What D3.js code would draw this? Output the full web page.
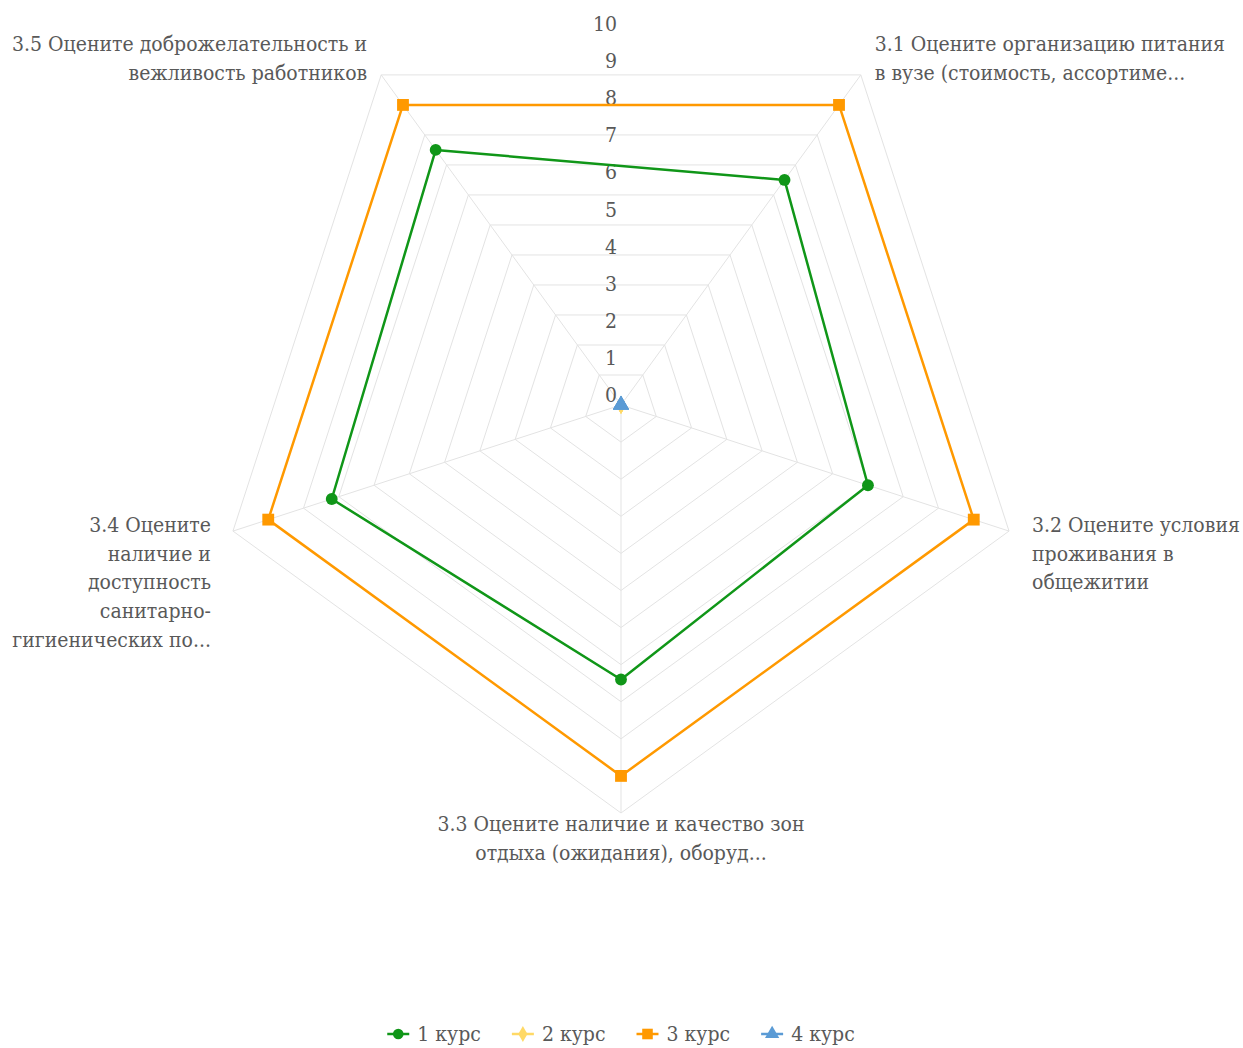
<!DOCTYPE html>
<html>
<head>
<meta charset="utf-8">
<script src="https://cdn.jsdelivr.net/npm/d3@7"></script>
<style>
  body { margin: 0; background: #fff; }
  svg text { font-family: "DejaVu Serif Condensed", "DejaVu Serif", serif; font-stretch: condensed; fill: #595959; }
</style>
</head>
<body>
<script>
const w = 1243,
  h = 1048,
  cx = 621,
  cy = 405;

// data
const axes = [
  ['3.1 Оцените организацию питания', 'в вузе (стоимость, ассортиме...'],
  ['3.2 Оцените условия', 'проживания в', 'общежитии'],
  ['3.3 Оцените наличие и качество зон', 'отдыха (ожидания), оборуд...'],
  ['3.4 Оцените', 'наличие и', 'доступность', 'санитарно-', 'гигиенических по...'],
  ['3.5 Оцените доброжелательность и', 'вежливость работников']
];
const seriesNames = ['1 курс', '2 курс', '3 курс', '4 курс'];
const kurs1 = [7.5, 7.0, 7.4, 8.2, 8.5];
const kurs2 = [0, 0, 0, 0, 0];
const kurs3 = [10, 10, 10, 10, 10];
const kurs4 = [0, 0, 0, 0, 0];
const ticks = [0, 1, 2, 3, 4, 5, 6, 7, 8, 9, 10];
const gridMax = 11;

const colors = ['#109618', '#ffd966', '#ff9900', '#5b9bd5'];
const symbols = [d3.symbolCircle, d3.symbolDiamond, d3.symbolSquare, d3.symbolTriangle];
const symSize = [110, 90, 140, 110];
const fs = '21px';

const r = d3.scaleLinear().domain([0, gridMax]).range([0, 408]);
const angle = d3
  .scaleLinear()
  .domain([0, axes.length])
  .range([Math.PI / 5, Math.PI / 5 + 2 * Math.PI]);

function pt(i, v) {
  const a = angle(i);
  return [cx + r(v) * Math.sin(a), cy - r(v) * Math.cos(a)];
}

const svg = d3
  .select('body')
  .append('svg')
  .attr('width', w)
  .attr('height', h);

// grid rings
const levels = d3.range(1, gridMax + 1);
svg
  .append('g')
  .selectAll('path')
  .data(levels)
  .enter()
  .append('path')
  .attr('d', lv => 'M' + axes.map((a, i) => pt(i, lv).join(',')).join('L') + 'Z')
  .attr('fill', 'none')
  .attr('stroke', '#e3e3e3')
  .attr('stroke-width', 1);

// spokes
svg
  .append('g')
  .selectAll('line')
  .data(axes)
  .enter()
  .append('line')
  .attr('x1', cx)
  .attr('y1', cy)
  .attr('x2', (d, i) => pt(i, gridMax)[0])
  .attr('y2', (d, i) => pt(i, gridMax)[1])
  .attr('stroke', '#e3e3e3')
  .attr('stroke-width', 1);

// tick labels
svg
  .append('g')
  .selectAll('text')
  .data(ticks)
  .enter()
  .append('text')
  .attr('x', cx - 4)
  .attr('y', d => cy - r(d) - 3)
  .attr('text-anchor', 'end')
  .style('font-size', fs)
  .text(d => d);

// axis labels
const lineH = 28.7;
axes.forEach((lines, i) => {
  const [vx, vy] = pt(i, gridMax);
  const s = Math.sin(angle(i)),
    c = Math.cos(angle(i));
  let x = vx,
    y = vy,
    anchor = 'middle';
  if (c > 0.5) {
    x = vx + (s > 0 ? 14 : -14);
    y = vy - 24;
    anchor = s > 0 ? 'start' : 'end';
  } else if (Math.abs(s) > 0.5) {
    x = vx + (s > 0 ? 23 : -22);
    y = vy + 1;
    anchor = s > 0 ? 'start' : 'end';
  } else {
    y = vy + 18;
  }
  const t = svg
    .append('text')
    .attr('text-anchor', anchor)
    .style('font-size', fs);
  t.selectAll('tspan')
    .data(lines)
    .enter()
    .append('tspan')
    .attr('x', x)
    .attr('y', (d, j) => y + j * lineH)
    .text(d => d);
});

// series
const allSeries = [kurs1, kurs2, kurs3, kurs4];
allSeries.forEach((vals, k) => {
  const g = svg.append('g');
  g.append('path')
    .attr('d', 'M' + vals.map((v, i) => pt(i, v).join(',')).join('L') + 'Z')
    .attr('fill', 'none')
    .attr('stroke', colors[k])
    .attr('stroke-width', 2.5)
    .attr('stroke-linejoin', 'round');
  g.selectAll('path.pt')
    .data(vals)
    .enter()
    .append('path')
    .attr('class', 'pt')
    .attr('transform', (v, i) => `translate(${pt(i, v)})`)
    .attr('d', d3.symbol().type(symbols[k]).size(symSize[k]))
    .attr('fill', colors[k]);
});

// legend
const legend = svg.append('g');
let lx = 0;
seriesNames.forEach((name, k) => {
  const item = legend.append('g').attr('transform', `translate(${lx},0)`);
  item
    .append('line')
    .attr('x1', 0)
    .attr('x2', 22)
    .attr('stroke', colors[k])
    .attr('stroke-width', 2.5);
  item
    .append('path')
    .attr('transform', 'translate(11,0)')
    .attr('d', d3.symbol().type(symbols[k]).size(symSize[k] * 0.8))
    .attr('fill', colors[k]);
  const txt = item
    .append('text')
    .attr('x', 30)
    .attr('y', 7)
    .style('font-size', fs)
    .text(name);
  lx += 30 + txt.node().getComputedTextLength() + 31;
});
const legW = lx - 31;
legend.attr('transform', `translate(${cx - legW / 2},1034)`);
</script>
</body>
</html>
